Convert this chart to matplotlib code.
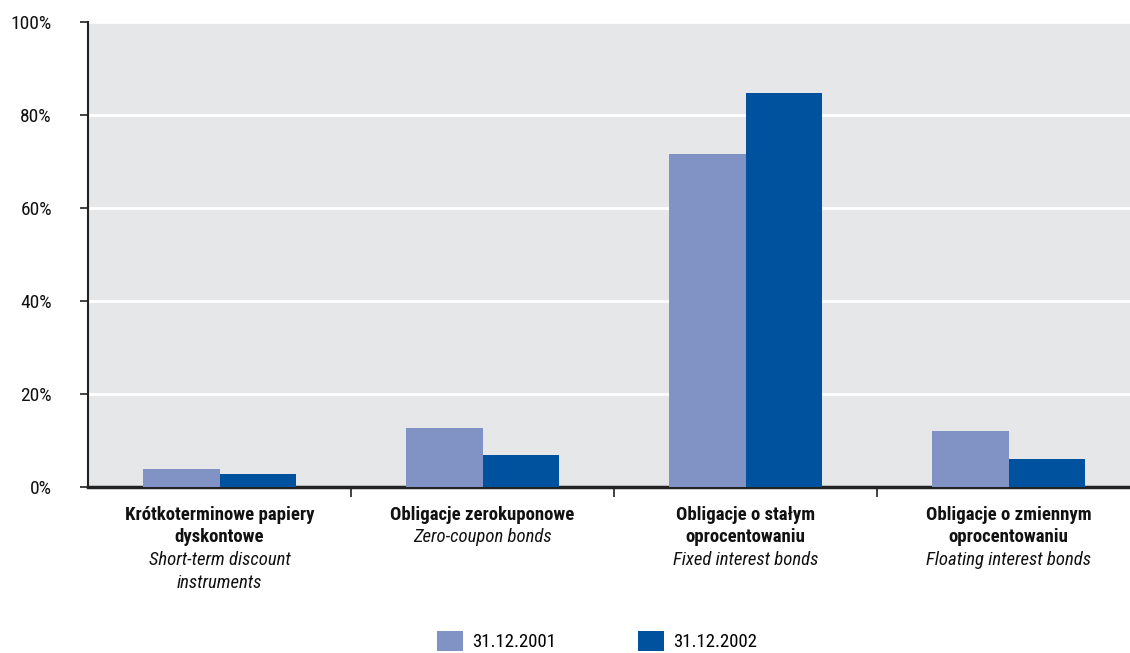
import matplotlib
matplotlib.use("Agg")
import matplotlib.pyplot as plt
import numpy as np

plt.rcParams['font.family'] = ['Roboto Condensed', 'DejaVu Sans']

categories_pl = ["Krótkoterminowe papiery\ndyskontowe",
                 "Obligacje zerokuponowe",
                 "Obligacje o stałym\noprocentowaniu",
                 "Obligacje o zmiennym\noprocentowaniu"]
categories_en = ["Short-term discount\ninstruments",
                 "Zero-coupon bonds",
                 "Fixed interest bonds",
                 "Floating interest bonds"]
series_names = ["31.12.2001", "31.12.2002"]
values_2001 = [3.9, 12.7, 71.6, 12.0]
values_2002 = [2.8, 6.9, 84.7, 6.0]
yticks = [0, 20, 40, 60, 80, 100]
ytick_labels = ["0%", "20%", "40%", "60%", "80%", "100%"]

c1 = "#8193c4"
c2 = "#00529f"

fig = plt.figure(figsize=(11.3, 6.53), dpi=100)
ax = fig.add_axes([88/1130, 1-487/653, 1052/1130, (487-22)/653])
ax.set_facecolor("#e6e7e9")

x = np.arange(len(categories_pl))
w = 0.29
ax.bar(x - w/2, values_2001, w, color=c1, label=series_names[0], zorder=3)
ax.bar(x + w/2, values_2002, w, color=c2, label=series_names[1], zorder=3)

ax.set_xlim(-0.5, len(x) - 0.5)
ax.set_ylim(0, 100)
ax.set_yticks(yticks)
ax.set_yticklabels(ytick_labels, fontsize=14, color="#111111")
ax.yaxis.grid(True, color="white", linewidth=2, zorder=1)
ax.set_axisbelow(True)

ax.set_xticks(np.arange(0.5, len(x) - 0.5, 1.0))
ax.set_xticklabels([])
ax.tick_params(axis='x', direction='out', length=7, width=1.2, color="#222222")
ax.tick_params(axis='y', direction='out', length=6, width=1.2, color="#222222", pad=20)

for s in ["top", "right"]:
    ax.spines[s].set_visible(False)
ax.spines["left"].set_linewidth(1.5)
ax.spines["bottom"].set_linewidth(2.5)
ax.spines["left"].set_color("#222222")
ax.spines["bottom"].set_color("#222222")

line_h = 22.5
for i in range(len(x)):
    pl_lines = categories_pl[i].split("\n")
    en_lines = categories_en[i].split("\n")
    y0 = -28
    k = 0
    for ln in pl_lines:
        ax.annotate(ln, xy=(x[i], 0), xycoords=('data', 'axes fraction'),
                    xytext=(0, y0 - k*line_h), textcoords='offset pixels',
                    ha='center', va='center', fontsize=13.5, fontweight='bold', color="#111111")
        k += 1
    for ln in en_lines:
        ax.annotate(ln, xy=(x[i], 0), xycoords=('data', 'axes fraction'),
                    xytext=(0, y0 - k*line_h), textcoords='offset pixels',
                    ha='center', va='center', fontsize=13.5, fontstyle='italic', color="#111111")
        k += 1

leg = fig.legend(loc='center', bbox_to_anchor=(597/1130, 1-641/653), ncol=2, frameon=False,
                 fontsize=13.5, handlelength=1.39, handleheight=1.33, columnspacing=4.4,
                 handletextpad=0.48, borderpad=0, borderaxespad=0)

fig.savefig("out.png", dpi=100)
